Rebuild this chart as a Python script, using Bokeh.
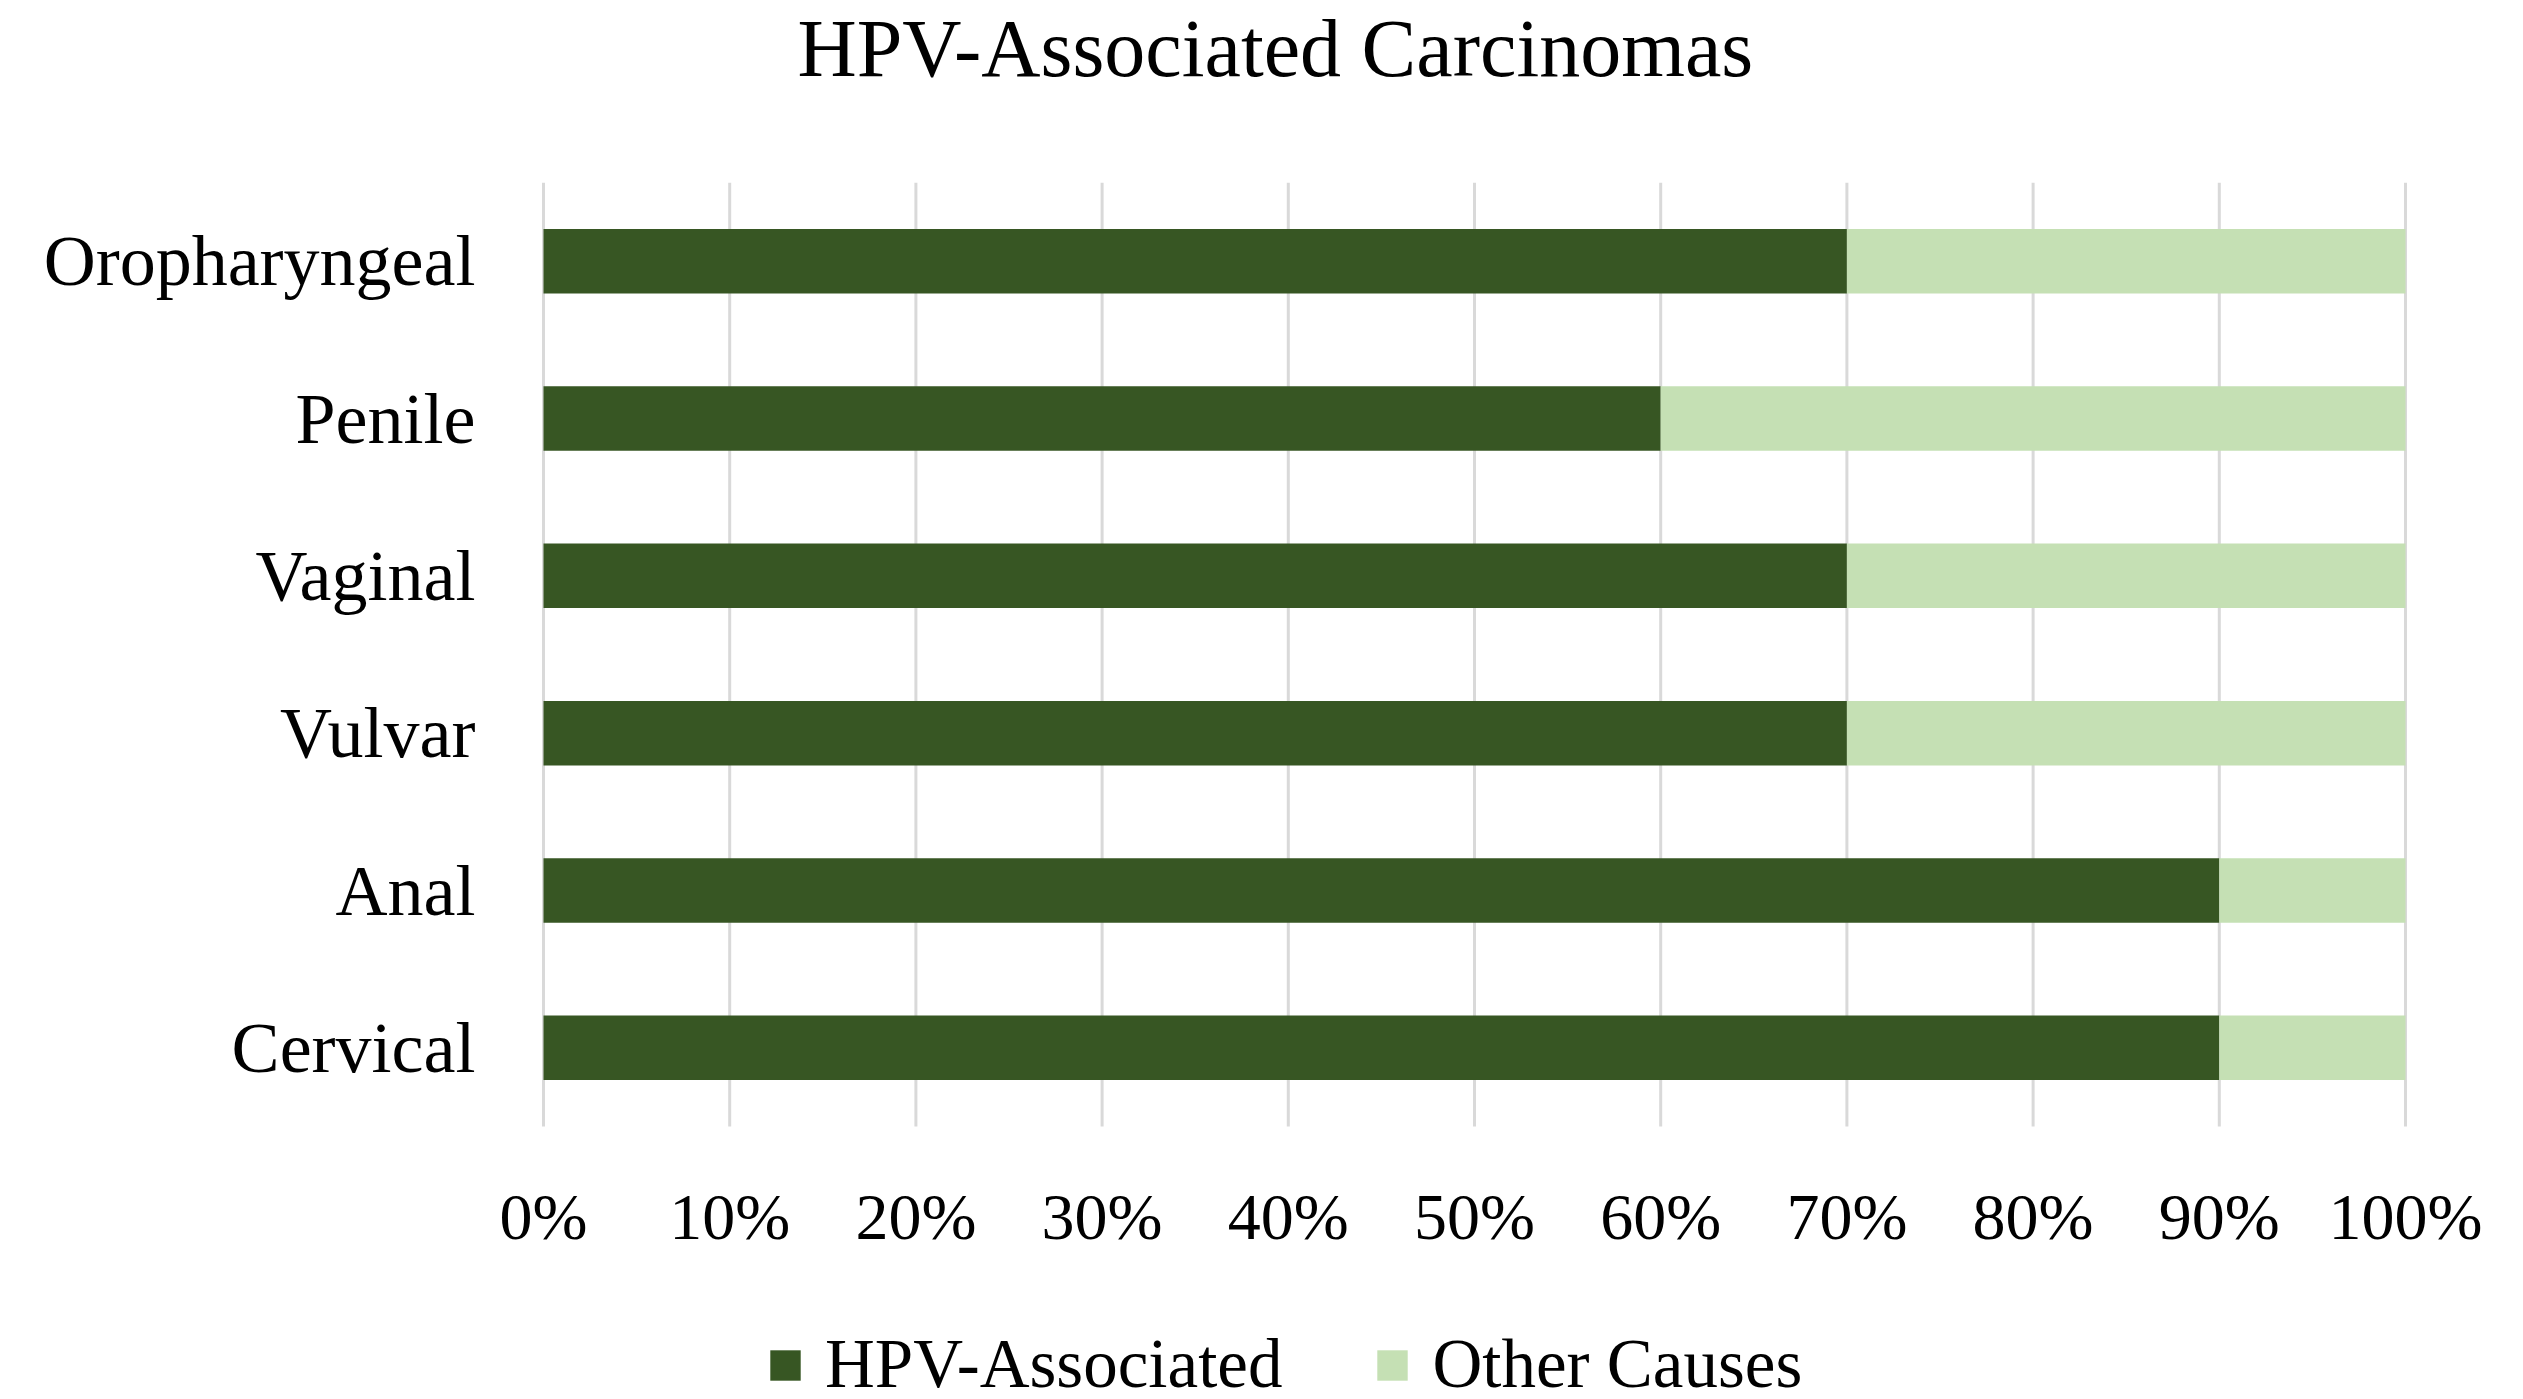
from bokeh.plotting import figure
from bokeh.models import (ColumnDataSource, Range1d, Legend, LegendItem, Title)
from bokeh.core.properties import value
from bokeh.embed import file_html
from bokeh.resources import INLINE

# ---- data (bottom to top) ----
categories = ["Cervical", "Anal", "Vulvar", "Vaginal", "Penile", "Oropharyngeal"]
hpv_associated = [90, 90, 70, 70, 60, 70]
other_causes = [10, 10, 30, 30, 40, 30]
series_names = ["HPV-Associated", "Other Causes"]
x_ticks = [0, 10, 20, 30, 40, 50, 60, 70, 80, 90, 100]
tick_labels = ["0%", "10%", "20%", "30%", "40%", "50%", "60%", "70%", "80%", "90%", "100%"]
title_text = "HPV-Associated Carcinomas"

DARK = "#375623"
LIGHT = "#C5E0B4"
GRID = "#D9D9D9"
FONT = "Liberation Serif"

# ---- layout constants (pixels) ----
W, FRAME_TOP, H = 2507, 175, 1383
PLOT_LEFT, PLOT_W = 543, 1862          # where 0% .. 100% sit
BAR_AREA_H = 944                        # height of the six category slots
px_per_unit = PLOT_W / 100.0
x_start = -PLOT_LEFT / px_per_unit
x_end = x_start + W / px_per_unit

n = len(categories)
slot_pos = [i + 0.5 for i in range(n)]
slot_px = BAR_AREA_H / n
extra = (H - FRAME_TOP - BAR_AREA_H) / slot_px
label_x = (475 - PLOT_LEFT) / px_per_unit   # right edge of category labels

source = ColumnDataSource(dict(y=slot_pos, cat=categories,
                               hpv=hpv_associated, other=other_causes))

p = figure(
    x_range=Range1d(x_start, x_end),
    y_range=Range1d(-extra, n),
    frame_width=W, frame_height=H - FRAME_TOP,
    min_border_left=0, min_border_right=0,
    min_border_top=FRAME_TOP, min_border_bottom=0,
    output_backend="svg", toolbar_location=None,
)

# vertical grid lines across the bar area
p.segment(x0=x_ticks, y0=[0] * len(x_ticks), x1=x_ticks, y1=[n] * len(x_ticks),
          line_color=GRID, line_width=3)

renderers = p.hbar_stack(["hpv", "other"], y="y", height=0.41, source=source,
                         color=[DARK, LIGHT], line_color=None)

# category labels
p.text(x=[label_x] * n, y=slot_pos, text=categories,
       text_font=value(FONT), text_font_size="72px", text_color="#000000",
       text_align="right", text_baseline="middle")

# percentage labels under the bars
p.text(x=x_ticks, y=[-0.575] * len(x_ticks), text=tick_labels,
       text_font=value(FONT), text_font_size="66px", text_color="#000000",
       text_align="center", text_baseline="middle")

p.xaxis.visible = False
p.yaxis.visible = False
p.xgrid.grid_line_color = None
p.ygrid.grid_line_color = None
p.outline_line_color = None
p.background_fill_color = "white"
p.border_fill_color = "white"

# spacer (closest to frame) then the real title
p.add_layout(Title(text=" ", text_font_size="79px", text_font=FONT, standoff=0), "above")
p.add_layout(Title(text=title_text, align="left", offset=797, standoff=0,
                   text_font=FONT, text_font_size="82px", text_font_style="normal",
                   text_color="#000000"), "above")

legend = Legend(items=[LegendItem(label=series_names[0], renderers=[renderers[0]]),
                       LegendItem(label=series_names[1], renderers=[renderers[1]])],
                orientation="horizontal", location=(766, -14))
legend.glyph_width = 38
legend.glyph_height = 38
legend.label_standoff = 21
legend.spacing = 91
legend.padding = 0
legend.margin = 0
legend.border_line_alpha = 0
legend.background_fill_alpha = 0
legend.label_text_font = FONT
legend.label_text_font_size = "69px"
legend.label_text_color = "#000000"
p.add_layout(legend)

open("out.html", "w").write(file_html(p, INLINE))
